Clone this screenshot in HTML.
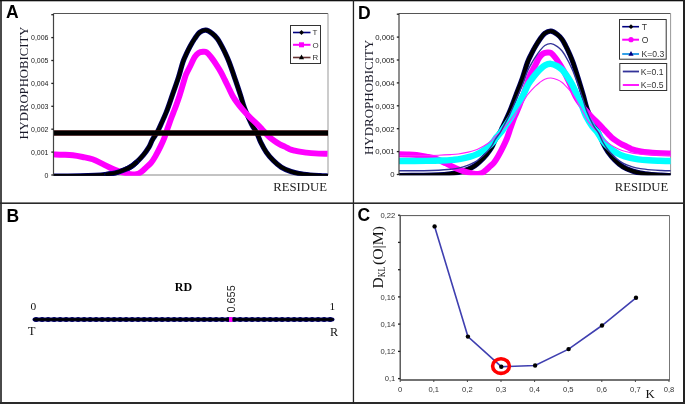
<!DOCTYPE html>
<html><head><meta charset="utf-8"><style>
html,body{margin:0;padding:0;background:#fff;}
body{width:685px;height:404px;overflow:hidden;font-family:"Liberation Sans",sans-serif;}
svg{display:block;will-change:transform;}
</style></head><body>
<svg width="685" height="404" viewBox="0 0 685 404">
<rect x="0" y="0" width="685" height="404" fill="#fff"/>
<rect x="0" y="0" width="2" height="404" fill="#4a4a4a"/>
<rect x="0" y="0" width="685" height="1.3" fill="#111"/>
<rect x="683" y="0" width="2" height="404" fill="#222"/>
<rect x="0" y="402" width="685" height="2" fill="#2a2a2a"/>
<rect x="352.8" y="0" width="1.3" height="404" fill="#222"/>
<rect x="0" y="202.4" width="685" height="1.6" fill="#2a2a2a"/>
<text x="6" y="18" font-family="Liberation Sans" font-weight="bold" font-size="17.5" fill="#000">A</text>
<text x="6.5" y="221.6" font-family="Liberation Sans" font-weight="bold" font-size="17.5" fill="#000">B</text>
<text x="357.5" y="221" font-family="Liberation Sans" font-weight="bold" font-size="17.5" fill="#000">C</text>
<text x="358" y="19.2" font-family="Liberation Sans" font-weight="bold" font-size="17.5" fill="#000">D</text>
<clipPath id="c53"><rect x="53.5" y="13.5" width="274.5" height="162.3"/></clipPath>
<line x1="53.5" y1="13.5" x2="328.0" y2="13.5" stroke="#555" stroke-width="1"/>
<line x1="328.0" y1="13.5" x2="328.0" y2="175.0" stroke="#999" stroke-width="1"/>
<line x1="53.5" y1="175.0" x2="328.0" y2="175.0" stroke="#888" stroke-width="1"/>
<g clip-path="url(#c53)">
<path d="M53.50,176.00 C57.92,175.98 73.08,176.00 80.00,175.90 C86.92,175.80 90.50,175.67 95.00,175.40 C99.50,175.13 103.67,174.70 107.00,174.30 C110.33,173.90 112.00,173.78 115.00,173.00 C118.00,172.22 122.23,170.73 125.00,169.60 C127.77,168.47 129.70,167.42 131.60,166.20 C133.50,164.98 134.42,164.20 136.40,162.30 C138.38,160.40 141.43,157.28 143.50,154.80 C145.57,152.32 147.33,149.87 148.80,147.40 C150.27,144.93 150.97,142.40 152.30,140.00 C153.63,137.60 155.60,135.08 156.80,133.00 C158.00,130.92 157.90,131.02 159.50,127.50 C161.10,123.98 164.23,117.38 166.40,111.90 C168.57,106.42 170.48,100.37 172.50,94.60 C174.52,88.83 176.77,82.72 178.50,77.30 C180.23,71.88 181.55,66.08 182.90,62.10 C184.25,58.12 185.37,56.08 186.60,53.40 C187.83,50.72 188.95,48.47 190.30,46.00 C191.65,43.53 193.15,40.87 194.70,38.60 C196.25,36.33 197.75,33.80 199.60,32.40 C201.45,31.00 203.67,30.00 205.80,30.20 C207.93,30.40 210.48,32.20 212.40,33.60 C214.32,35.00 215.87,36.73 217.30,38.60 C218.73,40.47 219.75,42.53 221.00,44.80 C222.25,47.07 223.43,49.28 224.80,52.20 C226.17,55.12 227.45,57.73 229.20,62.30 C230.95,66.87 233.42,74.12 235.30,79.60 C237.18,85.08 238.95,90.40 240.50,95.20 C242.05,100.00 242.77,103.60 244.60,108.40 C246.43,113.20 249.47,119.92 251.50,124.00 C253.53,128.08 255.23,129.78 256.80,132.90 C258.37,136.02 259.32,139.48 260.90,142.70 C262.48,145.92 264.25,149.25 266.30,152.20 C268.35,155.15 270.70,157.90 273.20,160.40 C275.70,162.90 278.35,165.35 281.30,167.20 C284.25,169.05 287.95,170.43 290.90,171.50 C293.85,172.57 295.82,173.02 299.00,173.60 C302.18,174.18 306.50,174.65 310.00,175.00 C313.50,175.35 317.08,175.53 320.00,175.70 C322.92,175.87 326.25,175.95 327.50,176.00" fill="none" stroke="#000070" stroke-width="5.2" stroke-linejoin="round" stroke-linecap="round"/><path d="M53.50,176.00 C57.92,175.98 73.08,176.00 80.00,175.90 C86.92,175.80 90.50,175.67 95.00,175.40 C99.50,175.13 103.67,174.70 107.00,174.30 C110.33,173.90 112.00,173.78 115.00,173.00 C118.00,172.22 122.23,170.73 125.00,169.60 C127.77,168.47 129.70,167.42 131.60,166.20 C133.50,164.98 134.42,164.20 136.40,162.30 C138.38,160.40 141.43,157.28 143.50,154.80 C145.57,152.32 147.33,149.87 148.80,147.40 C150.27,144.93 150.97,142.40 152.30,140.00 C153.63,137.60 155.60,135.08 156.80,133.00 C158.00,130.92 157.90,131.02 159.50,127.50 C161.10,123.98 164.23,117.38 166.40,111.90 C168.57,106.42 170.48,100.37 172.50,94.60 C174.52,88.83 176.77,82.72 178.50,77.30 C180.23,71.88 181.55,66.08 182.90,62.10 C184.25,58.12 185.37,56.08 186.60,53.40 C187.83,50.72 188.95,48.47 190.30,46.00 C191.65,43.53 193.15,40.87 194.70,38.60 C196.25,36.33 197.75,33.80 199.60,32.40 C201.45,31.00 203.67,30.00 205.80,30.20 C207.93,30.40 210.48,32.20 212.40,33.60 C214.32,35.00 215.87,36.73 217.30,38.60 C218.73,40.47 219.75,42.53 221.00,44.80 C222.25,47.07 223.43,49.28 224.80,52.20 C226.17,55.12 227.45,57.73 229.20,62.30 C230.95,66.87 233.42,74.12 235.30,79.60 C237.18,85.08 238.95,90.40 240.50,95.20 C242.05,100.00 242.77,103.60 244.60,108.40 C246.43,113.20 249.47,119.92 251.50,124.00 C253.53,128.08 255.23,129.78 256.80,132.90 C258.37,136.02 259.32,139.48 260.90,142.70 C262.48,145.92 264.25,149.25 266.30,152.20 C268.35,155.15 270.70,157.90 273.20,160.40 C275.70,162.90 278.35,165.35 281.30,167.20 C284.25,169.05 287.95,170.43 290.90,171.50 C293.85,172.57 295.82,173.02 299.00,173.60 C302.18,174.18 306.50,174.65 310.00,175.00 C313.50,175.35 317.08,175.53 320.00,175.70 C322.92,175.87 326.25,175.95 327.50,176.00" fill="none" stroke="#000" stroke-width="3.8" stroke-linejoin="round" stroke-linecap="round"/>
<path d="M53.50,154.40 C55.07,154.45 59.68,154.55 62.90,154.70 C66.12,154.85 69.50,154.92 72.80,155.30 C76.10,155.68 79.40,156.33 82.70,157.00 C86.00,157.67 89.30,158.17 92.60,159.30 C95.90,160.43 99.20,162.23 102.50,163.80 C105.80,165.37 109.48,167.40 112.40,168.70 C115.32,170.00 117.57,170.82 120.00,171.60 C122.43,172.38 124.92,172.93 127.00,173.40 C129.08,173.87 130.92,174.27 132.50,174.40 C134.08,174.53 135.25,174.47 136.50,174.20 C137.75,173.93 138.92,173.43 140.00,172.80 C141.08,172.17 141.92,171.33 143.00,170.40 C144.08,169.47 145.20,168.40 146.50,167.20 C147.80,166.00 149.35,164.97 150.80,163.20 C152.25,161.43 153.52,159.53 155.20,156.60 C156.88,153.67 159.37,148.75 160.90,145.60 C162.43,142.45 163.25,140.67 164.40,137.70 C165.55,134.73 166.65,131.10 167.80,127.80 C168.95,124.50 170.37,120.43 171.30,117.90 C172.23,115.37 172.55,114.80 173.40,112.60 C174.25,110.40 175.33,107.67 176.40,104.70 C177.47,101.73 178.73,98.10 179.80,94.80 C180.87,91.50 181.80,88.20 182.80,84.90 C183.80,81.60 184.85,77.57 185.80,75.00 C186.75,72.43 187.65,71.22 188.50,69.50 C189.35,67.78 189.85,66.82 190.90,64.70 C191.95,62.58 193.53,58.77 194.80,56.80 C196.07,54.83 197.13,53.73 198.50,52.90 C199.87,52.07 201.67,51.90 203.00,51.80 C204.33,51.70 205.18,51.47 206.50,52.30 C207.82,53.13 209.35,54.88 210.90,56.80 C212.45,58.72 214.17,61.32 215.80,63.80 C217.43,66.28 219.22,69.07 220.70,71.70 C222.18,74.33 223.43,77.05 224.70,79.60 C225.97,82.15 226.97,84.27 228.30,87.00 C229.63,89.73 231.25,93.42 232.70,96.00 C234.15,98.58 235.30,100.18 237.00,102.50 C238.70,104.82 240.75,107.43 242.90,109.90 C245.05,112.37 247.58,114.98 249.90,117.30 C252.22,119.62 254.75,121.77 256.80,123.80 C258.85,125.83 260.67,127.87 262.20,129.50 C263.73,131.13 264.72,132.25 266.00,133.60 C267.28,134.95 268.42,136.32 269.90,137.60 C271.38,138.88 273.25,140.18 274.90,141.30 C276.55,142.42 278.15,143.40 279.80,144.30 C281.45,145.20 283.15,145.88 284.80,146.70 C286.45,147.52 288.05,148.53 289.70,149.20 C291.35,149.87 293.05,150.28 294.70,150.70 C296.35,151.12 297.72,151.38 299.60,151.70 C301.48,152.02 303.43,152.32 306.00,152.60 C308.57,152.88 311.42,153.20 315.00,153.40 C318.58,153.60 325.42,153.73 327.50,153.80" fill="none" stroke="#ff00ff" stroke-width="5.9" stroke-linejoin="round"/>
<path d="M53.5,133.0 L328.0,133.0" fill="none" stroke="#4a1010" stroke-width="5.4" stroke-linejoin="round" stroke-linecap="round"/><path d="M53.5,133.0 L328.0,133.0" fill="none" stroke="#000" stroke-width="4.4" stroke-linejoin="round" stroke-linecap="round"/>
<path d="M107.00,174.30 C108.33,174.08 112.00,173.78 115.00,173.00 C118.00,172.22 122.23,170.73 125.00,169.60 C127.77,168.47 129.70,167.42 131.60,166.20 C133.50,164.98 135.60,162.95 136.40,162.30" fill="none" stroke="#000070" stroke-width="5.2" stroke-linejoin="round" stroke-linecap="round"/><path d="M107.00,174.30 C108.33,174.08 112.00,173.78 115.00,173.00 C118.00,172.22 122.23,170.73 125.00,169.60 C127.77,168.47 129.70,167.42 131.60,166.20 C133.50,164.98 135.60,162.95 136.40,162.30" fill="none" stroke="#000" stroke-width="3.8" stroke-linejoin="round" stroke-linecap="round"/>
</g>
<line x1="53.5" y1="13.5" x2="53.5" y2="175.5" stroke="#444" stroke-width="1.2"/>
<line x1="51.3" y1="175.0" x2="53.5" y2="175.0" stroke="#222" stroke-width="1.3"/>
<line x1="51.3" y1="152.1" x2="53.5" y2="152.1" stroke="#222" stroke-width="1.3"/>
<line x1="51.3" y1="129.2" x2="53.5" y2="129.2" stroke="#222" stroke-width="1.3"/>
<line x1="51.3" y1="106.3" x2="53.5" y2="106.3" stroke="#222" stroke-width="1.3"/>
<line x1="51.3" y1="83.4" x2="53.5" y2="83.4" stroke="#222" stroke-width="1.3"/>
<line x1="51.3" y1="60.5" x2="53.5" y2="60.5" stroke="#222" stroke-width="1.3"/>
<line x1="51.3" y1="37.6" x2="53.5" y2="37.6" stroke="#222" stroke-width="1.3"/>
<line x1="51.3" y1="14.7" x2="53.5" y2="14.7" stroke="#222" stroke-width="1.3"/>
<text x="48.5" y="177.8" text-anchor="end" font-family="Liberation Sans" font-size="7.7" fill="#1a1a1a" textLength="3.89" lengthAdjust="spacingAndGlyphs">0</text>
<text x="48.5" y="154.9" text-anchor="end" font-family="Liberation Sans" font-size="7.7" fill="#1a1a1a" textLength="17.50" lengthAdjust="spacingAndGlyphs">0,001</text>
<text x="48.5" y="132.0" text-anchor="end" font-family="Liberation Sans" font-size="7.7" fill="#1a1a1a" textLength="17.50" lengthAdjust="spacingAndGlyphs">0,002</text>
<text x="48.5" y="109.1" text-anchor="end" font-family="Liberation Sans" font-size="7.7" fill="#1a1a1a" textLength="17.50" lengthAdjust="spacingAndGlyphs">0,003</text>
<text x="48.5" y="86.2" text-anchor="end" font-family="Liberation Sans" font-size="7.7" fill="#1a1a1a" textLength="17.50" lengthAdjust="spacingAndGlyphs">0,004</text>
<text x="48.5" y="63.3" text-anchor="end" font-family="Liberation Sans" font-size="7.7" fill="#1a1a1a" textLength="17.50" lengthAdjust="spacingAndGlyphs">0,005</text>
<text x="48.5" y="40.4" text-anchor="end" font-family="Liberation Sans" font-size="7.7" fill="#1a1a1a" textLength="17.50" lengthAdjust="spacingAndGlyphs">0,006</text>
<text transform="translate(27.7,139.6) rotate(-90)" font-family="Liberation Serif" font-size="12.5" fill="#1a1a2a" textLength="113.0" lengthAdjust="spacingAndGlyphs">HYDROPHOBICITY</text>
<text x="273.3" y="191.3" font-family="Liberation Serif" font-size="12.5" fill="#222" textLength="53.7" lengthAdjust="spacingAndGlyphs">RESIDUE</text>
<rect x="290.5" y="25.5" width="30.0" height="38.0" fill="#fff" stroke="#333" stroke-width="1"/>
<line x1="293.0" y1="32.5" x2="310.5" y2="32.5" stroke="#000080" stroke-width="1.6"/>
<path d="M301.5,30.1 L303.9,32.5 L301.5,34.9 L299.1,32.5 Z" fill="#000"/>
<text x="312.4" y="35.2" font-family="Liberation Sans" font-size="7.9" fill="#333">T</text>
<line x1="293.0" y1="44.8" x2="310.5" y2="44.8" stroke="#ff00ff" stroke-width="2.0"/>
<rect x="299" y="42.3" width="5" height="5" fill="#ff00ff"/>
<text x="312.4" y="47.9" font-family="Liberation Sans" font-size="7.9" fill="#333">O</text>
<line x1="293.0" y1="57.5" x2="310.5" y2="57.5" stroke="#663333" stroke-width="1.6"/>
<path d="M301.5,54.6 L304.1,59.3 L298.9,59.3 Z" fill="#000"/>
<text x="312.4" y="60.2" font-family="Liberation Sans" font-size="7.9" fill="#333">R</text>
<clipPath id="c399"><rect x="399.0" y="13.5" width="271.6" height="161.8"/></clipPath>
<line x1="399.0" y1="13.5" x2="670.6" y2="13.5" stroke="#555" stroke-width="1"/>
<line x1="670.6" y1="13.5" x2="670.6" y2="174.5" stroke="#999" stroke-width="1"/>
<line x1="399.0" y1="174.5" x2="670.6" y2="174.5" stroke="#888" stroke-width="1"/>
<g clip-path="url(#c399)">
<path d="M390.00,175.49 C391.25,175.49 391.88,175.51 397.50,175.49 C403.12,175.47 416.88,175.49 423.72,175.39 C430.56,175.29 434.11,175.16 438.56,174.90 C443.01,174.63 447.14,174.20 450.43,173.81 C453.73,173.41 455.38,173.30 458.35,172.52 C461.32,171.74 465.51,170.28 468.24,169.15 C470.98,168.03 472.89,166.99 474.77,165.79 C476.65,164.58 477.56,163.81 479.52,161.93 C481.49,160.05 484.50,156.96 486.55,154.50 C488.59,152.04 490.34,149.62 491.79,147.18 C493.24,144.73 493.94,142.23 495.26,139.85 C496.58,137.47 498.52,134.98 499.71,132.92 C500.90,130.86 500.75,130.96 502.38,127.47 C504.01,123.99 507.21,117.46 509.49,112.03 C511.77,106.60 513.88,100.61 516.06,94.90 C518.23,89.19 520.64,83.14 522.53,77.78 C524.41,72.41 525.89,66.67 527.35,62.73 C528.81,58.79 529.98,56.77 531.28,54.12 C532.58,51.46 533.76,49.23 535.17,46.79 C536.58,44.35 538.15,41.71 539.75,39.46 C541.35,37.22 542.92,34.71 544.79,33.33 C546.66,31.94 548.85,30.95 550.95,31.15 C553.06,31.35 555.56,33.13 557.42,34.51 C559.28,35.90 560.75,37.62 562.11,39.46 C563.47,41.31 564.41,43.36 565.58,45.60 C566.75,47.85 567.85,50.04 569.11,52.93 C570.37,55.82 571.56,58.41 573.15,62.93 C574.74,67.45 576.96,74.63 578.66,80.05 C580.35,85.48 581.93,90.75 583.32,95.50 C584.70,100.25 585.29,103.81 586.97,108.57 C588.65,113.32 591.46,119.97 593.41,124.01 C595.36,128.05 597.10,129.74 598.65,132.82 C600.20,135.91 601.14,139.34 602.71,142.52 C604.28,145.71 606.02,149.01 608.05,151.93 C610.08,154.85 612.41,157.57 614.88,160.05 C617.35,162.52 619.97,164.95 622.89,166.78 C625.81,168.61 629.47,169.98 632.39,171.03 C635.31,172.09 637.26,172.54 640.41,173.11 C643.56,173.69 647.83,174.15 651.29,174.50 C654.75,174.85 658.30,175.03 661.18,175.19 C664.07,175.36 665.47,175.44 668.61,175.49 C671.74,175.54 678.10,175.49 680.00,175.49" fill="none" stroke="#000070" stroke-width="5.2" stroke-linejoin="round" stroke-linecap="round"/><path d="M390.00,175.49 C391.25,175.49 391.88,175.51 397.50,175.49 C403.12,175.47 416.88,175.49 423.72,175.39 C430.56,175.29 434.11,175.16 438.56,174.90 C443.01,174.63 447.14,174.20 450.43,173.81 C453.73,173.41 455.38,173.30 458.35,172.52 C461.32,171.74 465.51,170.28 468.24,169.15 C470.98,168.03 472.89,166.99 474.77,165.79 C476.65,164.58 477.56,163.81 479.52,161.93 C481.49,160.05 484.50,156.96 486.55,154.50 C488.59,152.04 490.34,149.62 491.79,147.18 C493.24,144.73 493.94,142.23 495.26,139.85 C496.58,137.47 498.52,134.98 499.71,132.92 C500.90,130.86 500.75,130.96 502.38,127.47 C504.01,123.99 507.21,117.46 509.49,112.03 C511.77,106.60 513.88,100.61 516.06,94.90 C518.23,89.19 520.64,83.14 522.53,77.78 C524.41,72.41 525.89,66.67 527.35,62.73 C528.81,58.79 529.98,56.77 531.28,54.12 C532.58,51.46 533.76,49.23 535.17,46.79 C536.58,44.35 538.15,41.71 539.75,39.46 C541.35,37.22 542.92,34.71 544.79,33.33 C546.66,31.94 548.85,30.95 550.95,31.15 C553.06,31.35 555.56,33.13 557.42,34.51 C559.28,35.90 560.75,37.62 562.11,39.46 C563.47,41.31 564.41,43.36 565.58,45.60 C566.75,47.85 567.85,50.04 569.11,52.93 C570.37,55.82 571.56,58.41 573.15,62.93 C574.74,67.45 576.96,74.63 578.66,80.05 C580.35,85.48 581.93,90.75 583.32,95.50 C584.70,100.25 585.29,103.81 586.97,108.57 C588.65,113.32 591.46,119.97 593.41,124.01 C595.36,128.05 597.10,129.74 598.65,132.82 C600.20,135.91 601.14,139.34 602.71,142.52 C604.28,145.71 606.02,149.01 608.05,151.93 C610.08,154.85 612.41,157.57 614.88,160.05 C617.35,162.52 619.97,164.95 622.89,166.78 C625.81,168.61 629.47,169.98 632.39,171.03 C635.31,172.09 637.26,172.54 640.41,173.11 C643.56,173.69 647.83,174.15 651.29,174.50 C654.75,174.85 658.30,175.03 661.18,175.19 C664.07,175.36 665.47,175.44 668.61,175.49 C671.74,175.54 678.10,175.49 680.00,175.49" fill="none" stroke="#000" stroke-width="3.8" stroke-linejoin="round" stroke-linecap="round"/>
<path d="M390.00,154.11 C391.25,154.11 394.70,154.06 397.50,154.11 C400.30,154.16 403.62,154.25 406.80,154.40 C409.98,154.55 413.33,154.62 416.60,155.00 C419.86,155.38 423.13,156.02 426.39,156.68 C429.66,157.34 432.92,157.84 436.19,158.96 C439.45,160.08 442.72,161.86 445.98,163.41 C449.25,164.96 452.89,166.98 455.78,168.26 C458.66,169.55 460.89,170.36 463.30,171.13 C465.71,171.91 468.16,172.45 470.22,172.92 C472.28,173.38 474.10,173.77 475.67,173.91 C477.23,174.04 478.39,173.97 479.62,173.71 C480.86,173.44 482.01,172.95 483.09,172.32 C484.16,171.69 484.98,170.87 486.05,169.95 C487.13,169.02 488.23,167.97 489.52,166.78 C490.80,165.59 492.34,164.57 493.77,162.82 C495.21,161.07 496.46,159.19 498.13,156.28 C499.79,153.38 502.25,148.51 503.77,145.39 C505.28,142.28 506.09,140.51 507.23,137.57 C508.37,134.64 509.44,131.04 510.59,127.77 C511.75,124.50 513.18,120.48 514.15,117.97 C515.12,115.46 515.48,114.90 516.39,112.72 C517.30,110.55 518.46,107.84 519.60,104.90 C520.75,101.97 522.12,98.37 523.27,95.10 C524.43,91.84 525.46,88.57 526.55,85.30 C527.64,82.03 528.80,78.04 529.82,75.50 C530.84,72.96 531.77,71.75 532.66,70.06 C533.56,68.36 534.08,67.40 535.18,65.30 C536.29,63.21 537.97,59.43 539.29,57.48 C540.60,55.54 541.69,54.45 543.07,53.62 C544.45,52.80 546.23,52.63 547.55,52.53 C548.88,52.43 549.73,52.20 551.00,53.03 C552.28,53.85 553.74,55.58 555.22,57.48 C556.69,59.38 558.31,61.95 559.85,64.41 C561.39,66.87 563.07,69.63 564.45,72.23 C565.84,74.84 566.99,77.53 568.17,80.05 C569.34,82.58 570.27,84.67 571.50,87.38 C572.74,90.09 574.22,93.73 575.58,96.29 C576.93,98.85 578.02,100.43 579.63,102.72 C581.24,105.02 583.19,107.61 585.24,110.05 C587.29,112.49 589.70,115.08 591.94,117.38 C594.17,119.67 596.64,121.80 598.65,123.81 C600.66,125.82 602.48,127.84 604.00,129.45 C605.51,131.07 606.49,132.18 607.76,133.51 C609.02,134.85 610.15,136.20 611.61,137.47 C613.08,138.74 614.93,140.03 616.56,141.14 C618.19,142.24 619.78,143.22 621.41,144.11 C623.04,145.00 624.72,145.67 626.36,146.48 C627.99,147.29 629.57,148.30 631.20,148.96 C632.84,149.62 634.52,150.03 636.15,150.44 C637.78,150.86 639.14,151.12 641.00,151.43 C642.86,151.75 644.79,152.04 647.33,152.32 C649.87,152.60 652.69,152.92 656.24,153.12 C659.78,153.31 664.64,153.45 668.61,153.51 C672.57,153.58 678.10,153.51 680.00,153.51" fill="none" stroke="#ff00ff" stroke-width="6" stroke-linejoin="round"/>
<path d="M390.00,160.97 C391.88,160.97 395.13,160.98 401.27,160.97 C407.41,160.96 420.16,160.97 426.83,160.90 C433.51,160.83 436.96,160.74 441.31,160.57 C445.65,160.39 449.67,160.10 452.88,159.83 C456.10,159.57 457.70,159.49 460.60,158.97 C463.49,158.45 467.58,157.46 470.25,156.70 C472.92,155.95 474.78,155.25 476.61,154.44 C478.45,153.63 479.33,153.10 481.24,151.84 C483.16,150.57 486.10,148.50 488.09,146.84 C490.09,145.19 491.79,143.55 493.21,141.91 C494.62,140.27 495.30,138.58 496.58,136.98 C497.87,135.38 499.77,133.70 500.92,132.32 C502.08,130.93 501.94,131.00 503.53,128.65 C505.12,126.31 508.23,121.91 510.46,118.26 C512.68,114.60 514.74,110.57 516.86,106.73 C518.98,102.89 521.34,98.81 523.17,95.21 C525.01,91.60 526.45,87.73 527.87,85.08 C529.30,82.42 530.43,81.07 531.70,79.28 C532.97,77.49 534.12,75.99 535.50,74.35 C536.87,72.71 538.40,70.93 539.96,69.42 C541.53,67.91 543.06,66.22 544.88,65.29 C546.70,64.36 548.83,63.69 550.88,63.82 C552.94,63.96 555.38,65.16 557.19,66.09 C559.00,67.02 560.44,68.18 561.77,69.42 C563.09,70.66 564.01,72.04 565.15,73.55 C566.29,75.06 567.36,76.54 568.59,78.48 C569.82,80.43 570.98,82.17 572.53,85.21 C574.08,88.25 576.24,93.08 577.90,96.74 C579.55,100.39 581.09,103.93 582.44,107.13 C583.79,110.33 584.36,112.73 586.00,115.93 C587.64,119.12 590.38,123.60 592.28,126.32 C594.18,129.04 595.88,130.17 597.39,132.25 C598.90,134.33 599.82,136.64 601.35,138.78 C602.88,140.92 604.58,143.14 606.56,145.11 C608.54,147.07 610.80,148.91 613.21,150.57 C615.63,152.24 618.18,153.87 621.03,155.10 C623.87,156.34 627.44,157.26 630.29,157.97 C633.14,158.68 635.03,158.98 638.10,159.37 C641.17,159.76 645.34,160.07 648.72,160.30 C652.09,160.53 655.55,160.66 658.36,160.77 C661.18,160.88 661.99,160.93 665.60,160.97 C669.20,161.00 677.60,160.97 680.00,160.97" fill="none" stroke="#00ffff" stroke-width="6.4" stroke-linejoin="round"/>
<path d="M390.00,155.53 C391.25,155.53 391.88,155.54 397.50,155.53 C403.12,155.52 416.88,155.53 423.72,155.48 C430.56,155.43 434.11,155.35 438.56,155.21 C443.01,155.07 447.14,154.84 450.43,154.63 C453.73,154.42 455.38,154.35 458.35,153.94 C461.32,153.52 465.51,152.73 468.24,152.13 C470.98,151.53 472.89,150.97 474.77,150.32 C476.65,149.67 477.56,149.26 479.52,148.25 C481.49,147.24 484.50,145.58 486.55,144.26 C488.59,142.94 490.34,141.64 491.79,140.33 C493.24,139.02 493.94,137.67 495.26,136.39 C496.58,135.12 498.52,133.78 499.71,132.67 C500.90,131.56 500.75,131.62 502.38,129.75 C504.01,127.88 507.21,124.37 509.49,121.45 C511.77,118.54 513.88,115.32 516.06,112.26 C518.23,109.19 520.64,105.94 522.53,103.06 C524.41,100.18 525.89,97.10 527.35,94.98 C528.81,92.86 529.98,91.78 531.28,90.35 C532.58,88.93 533.76,87.73 535.17,86.42 C536.58,85.11 538.15,83.69 539.75,82.49 C541.35,81.28 542.92,79.93 544.79,79.19 C546.66,78.45 548.85,77.91 550.95,78.02 C553.06,78.13 555.56,79.08 557.42,79.83 C559.28,80.57 560.75,81.49 562.11,82.49 C563.47,83.48 564.41,84.58 565.58,85.78 C566.75,86.99 567.85,88.17 569.11,89.72 C570.37,91.27 571.56,92.66 573.15,95.09 C574.74,97.51 576.96,101.37 578.66,104.28 C580.35,107.20 581.93,110.02 583.32,112.58 C584.70,115.13 585.29,117.04 586.97,119.59 C588.65,122.15 591.46,125.72 593.41,127.89 C595.36,130.06 597.10,130.96 598.65,132.62 C600.20,134.28 601.14,136.12 602.71,137.83 C604.28,139.54 606.02,141.31 608.05,142.88 C610.08,144.45 612.41,145.91 614.88,147.24 C617.35,148.57 619.97,149.87 622.89,150.85 C625.81,151.84 629.47,152.57 632.39,153.14 C635.31,153.71 637.26,153.95 640.41,154.26 C643.56,154.57 647.83,154.81 651.29,155.00 C654.75,155.19 658.30,155.28 661.18,155.37 C664.07,155.46 665.47,155.51 668.61,155.53 C671.74,155.56 678.10,155.53 680.00,155.53" fill="none" stroke="#ff22ff" stroke-width="1.1" stroke-linejoin="round"/>
<path d="M390.00,170.77 C391.25,170.77 391.88,170.79 397.50,170.77 C403.12,170.76 416.88,170.77 423.72,170.68 C430.56,170.60 434.11,170.48 438.56,170.25 C443.01,170.02 447.14,169.64 450.43,169.29 C453.73,168.94 455.38,168.84 458.35,168.16 C461.32,167.47 465.51,166.18 468.24,165.19 C470.98,164.20 472.89,163.29 474.77,162.22 C476.65,161.16 477.56,160.48 479.52,158.82 C481.49,157.17 484.50,154.45 486.55,152.28 C488.59,150.12 490.34,147.98 491.79,145.83 C493.24,143.68 493.94,141.47 495.26,139.37 C496.58,137.28 498.52,135.09 499.71,133.27 C500.90,131.45 500.75,131.54 502.38,128.47 C504.01,125.40 507.21,119.65 509.49,114.86 C511.77,110.08 513.88,104.81 516.06,99.78 C518.23,94.75 520.64,89.41 522.53,84.69 C524.41,79.96 525.89,74.90 527.35,71.43 C528.81,67.96 529.98,66.18 531.28,63.84 C532.58,61.50 533.76,59.54 535.17,57.39 C536.58,55.24 538.15,52.91 539.75,50.93 C541.35,48.96 542.92,46.75 544.79,45.53 C546.66,44.30 548.85,43.43 550.95,43.61 C553.06,43.78 555.56,45.35 557.42,46.57 C559.28,47.79 560.75,49.31 562.11,50.93 C563.47,52.56 564.41,54.36 565.58,56.34 C566.75,58.32 567.85,60.25 569.11,62.80 C570.37,65.34 571.56,67.62 573.15,71.60 C574.74,75.59 576.96,81.91 578.66,86.69 C580.35,91.48 581.93,96.11 583.32,100.30 C584.70,104.49 585.29,107.63 586.97,111.81 C588.65,116.00 591.46,121.86 593.41,125.42 C595.36,128.98 597.10,130.46 598.65,133.18 C600.20,135.90 601.14,138.92 602.71,141.73 C604.28,144.53 606.02,147.44 608.05,150.01 C610.08,152.59 612.41,154.99 614.88,157.17 C617.35,159.35 619.97,161.48 622.89,163.10 C625.81,164.71 629.47,165.92 632.39,166.85 C635.31,167.78 637.26,168.17 640.41,168.68 C643.56,169.19 647.83,169.59 651.29,169.90 C654.75,170.21 658.30,170.37 661.18,170.51 C664.07,170.66 665.47,170.73 668.61,170.77 C671.74,170.82 678.10,170.77 680.00,170.77" fill="none" stroke="#333399" stroke-width="1.4" stroke-linejoin="round"/>
</g>
<line x1="399.0" y1="13.5" x2="399.0" y2="175.0" stroke="#444" stroke-width="1.2"/>
<line x1="396.8" y1="174.5" x2="399.0" y2="174.5" stroke="#222" stroke-width="1.3"/>
<line x1="396.8" y1="151.6" x2="399.0" y2="151.6" stroke="#222" stroke-width="1.3"/>
<line x1="396.8" y1="128.7" x2="399.0" y2="128.7" stroke="#222" stroke-width="1.3"/>
<line x1="396.8" y1="105.8" x2="399.0" y2="105.8" stroke="#222" stroke-width="1.3"/>
<line x1="396.8" y1="82.9" x2="399.0" y2="82.9" stroke="#222" stroke-width="1.3"/>
<line x1="396.8" y1="60.0" x2="399.0" y2="60.0" stroke="#222" stroke-width="1.3"/>
<line x1="396.8" y1="37.1" x2="399.0" y2="37.1" stroke="#222" stroke-width="1.3"/>
<line x1="396.8" y1="14.2" x2="399.0" y2="14.2" stroke="#222" stroke-width="1.3"/>
<text x="394.6" y="177.3" text-anchor="end" font-family="Liberation Sans" font-size="8.1" fill="#1a1a1a" textLength="4.31" lengthAdjust="spacingAndGlyphs">0</text>
<text x="394.6" y="154.4" text-anchor="end" font-family="Liberation Sans" font-size="8.1" fill="#1a1a1a" textLength="19.40" lengthAdjust="spacingAndGlyphs">0,001</text>
<text x="394.6" y="131.5" text-anchor="end" font-family="Liberation Sans" font-size="8.1" fill="#1a1a1a" textLength="19.40" lengthAdjust="spacingAndGlyphs">0,002</text>
<text x="394.6" y="108.6" text-anchor="end" font-family="Liberation Sans" font-size="8.1" fill="#1a1a1a" textLength="19.40" lengthAdjust="spacingAndGlyphs">0,003</text>
<text x="394.6" y="85.7" text-anchor="end" font-family="Liberation Sans" font-size="8.1" fill="#1a1a1a" textLength="19.40" lengthAdjust="spacingAndGlyphs">0,004</text>
<text x="394.6" y="62.8" text-anchor="end" font-family="Liberation Sans" font-size="8.1" fill="#1a1a1a" textLength="19.40" lengthAdjust="spacingAndGlyphs">0,005</text>
<text x="394.6" y="39.9" text-anchor="end" font-family="Liberation Sans" font-size="8.1" fill="#1a1a1a" textLength="19.40" lengthAdjust="spacingAndGlyphs">0,006</text>
<text transform="translate(372.9,155.1) rotate(-90)" font-family="Liberation Serif" font-size="12.5" fill="#1a1a2a" textLength="115.4" lengthAdjust="spacingAndGlyphs">HYDROPHOBICITY</text>
<text x="614.7" y="191.3" font-family="Liberation Serif" font-size="12.5" fill="#222" textLength="53.5" lengthAdjust="spacingAndGlyphs">RESIDUE</text>
<rect x="619.5" y="19.5" width="46.7" height="39.7" fill="#fff" stroke="#333" stroke-width="1"/>
<line x1="622.2" y1="26.7" x2="639.0" y2="26.7" stroke="#000080" stroke-width="1.6"/>
<path d="M631.0,24.3 L633.4,26.7 L631.0,29.1 L628.6,26.7 Z" fill="#000"/>
<text x="641.8" y="29.9" font-family="Liberation Sans" font-size="8.6" fill="#333">T</text>
<line x1="622.2" y1="39.7" x2="639.0" y2="39.7" stroke="#ff00ff" stroke-width="2.0"/>
<circle cx="631" cy="39.7" r="2.6" fill="#ff00ff"/>
<text x="641.8" y="42.8" font-family="Liberation Sans" font-size="8.6" fill="#333">O</text>
<line x1="622.2" y1="54.0" x2="639.0" y2="54.0" stroke="#33a0e8" stroke-width="2.0"/>
<path d="M631.0,51.0 L633.6,55.7 L628.4,55.7 Z" fill="#000080"/>
<text x="641.6" y="57.1" font-family="Liberation Sans" font-size="8.6" fill="#333">K=0.3</text>
<rect x="619.8" y="63.5" width="46.9" height="27.0" fill="#fff" stroke="#333" stroke-width="1"/>
<line x1="622.8" y1="71.5" x2="639.0" y2="71.5" stroke="#333399" stroke-width="1.8"/>
<text x="640.8" y="74.6" font-family="Liberation Sans" font-size="8.6" fill="#333">K=0.1</text>
<line x1="622.8" y1="85.0" x2="639.0" y2="85.0" stroke="#ff00ff" stroke-width="1.8"/>
<text x="640.8" y="88.1" font-family="Liberation Sans" font-size="8.6" fill="#333">K=0.5</text>
<line x1="34.6" y1="319.5" x2="332.4" y2="319.5" stroke="#06066e" stroke-width="4.2" stroke-linecap="round"/>
<circle cx="36.10" cy="319.5" r="2.5" fill="#000062"/>
<circle cx="42.10" cy="319.5" r="2.5" fill="#000062"/>
<circle cx="48.10" cy="319.5" r="2.5" fill="#000062"/>
<circle cx="54.10" cy="319.5" r="2.5" fill="#000062"/>
<circle cx="60.10" cy="319.5" r="2.5" fill="#000062"/>
<circle cx="66.10" cy="319.5" r="2.5" fill="#000062"/>
<circle cx="72.10" cy="319.5" r="2.5" fill="#000062"/>
<circle cx="78.10" cy="319.5" r="2.5" fill="#000062"/>
<circle cx="84.10" cy="319.5" r="2.5" fill="#000062"/>
<circle cx="90.10" cy="319.5" r="2.5" fill="#000062"/>
<circle cx="96.10" cy="319.5" r="2.5" fill="#000062"/>
<circle cx="102.10" cy="319.5" r="2.5" fill="#000062"/>
<circle cx="108.10" cy="319.5" r="2.5" fill="#000062"/>
<circle cx="114.10" cy="319.5" r="2.5" fill="#000062"/>
<circle cx="120.10" cy="319.5" r="2.5" fill="#000062"/>
<circle cx="126.10" cy="319.5" r="2.5" fill="#000062"/>
<circle cx="132.10" cy="319.5" r="2.5" fill="#000062"/>
<circle cx="138.10" cy="319.5" r="2.5" fill="#000062"/>
<circle cx="144.10" cy="319.5" r="2.5" fill="#000062"/>
<circle cx="150.10" cy="319.5" r="2.5" fill="#000062"/>
<circle cx="156.10" cy="319.5" r="2.5" fill="#000062"/>
<circle cx="162.10" cy="319.5" r="2.5" fill="#000062"/>
<circle cx="168.10" cy="319.5" r="2.5" fill="#000062"/>
<circle cx="174.10" cy="319.5" r="2.5" fill="#000062"/>
<circle cx="180.10" cy="319.5" r="2.5" fill="#000062"/>
<circle cx="186.10" cy="319.5" r="2.5" fill="#000062"/>
<circle cx="192.10" cy="319.5" r="2.5" fill="#000062"/>
<circle cx="198.10" cy="319.5" r="2.5" fill="#000062"/>
<circle cx="204.10" cy="319.5" r="2.5" fill="#000062"/>
<circle cx="210.10" cy="319.5" r="2.5" fill="#000062"/>
<circle cx="216.10" cy="319.5" r="2.5" fill="#000062"/>
<circle cx="222.10" cy="319.5" r="2.5" fill="#000062"/>
<circle cx="228.10" cy="319.5" r="2.5" fill="#000062"/>
<circle cx="234.10" cy="319.5" r="2.5" fill="#000062"/>
<circle cx="240.10" cy="319.5" r="2.5" fill="#000062"/>
<circle cx="246.10" cy="319.5" r="2.5" fill="#000062"/>
<circle cx="252.10" cy="319.5" r="2.5" fill="#000062"/>
<circle cx="258.10" cy="319.5" r="2.5" fill="#000062"/>
<circle cx="264.10" cy="319.5" r="2.5" fill="#000062"/>
<circle cx="270.10" cy="319.5" r="2.5" fill="#000062"/>
<circle cx="276.10" cy="319.5" r="2.5" fill="#000062"/>
<circle cx="282.10" cy="319.5" r="2.5" fill="#000062"/>
<circle cx="288.10" cy="319.5" r="2.5" fill="#000062"/>
<circle cx="294.10" cy="319.5" r="2.5" fill="#000062"/>
<circle cx="300.10" cy="319.5" r="2.5" fill="#000062"/>
<circle cx="306.10" cy="319.5" r="2.5" fill="#000062"/>
<circle cx="312.10" cy="319.5" r="2.5" fill="#000062"/>
<circle cx="318.10" cy="319.5" r="2.5" fill="#000062"/>
<circle cx="324.10" cy="319.5" r="2.5" fill="#000062"/>
<circle cx="330.10" cy="319.5" r="2.5" fill="#000062"/>
<line x1="34.6" y1="319.5" x2="332.4" y2="319.5" stroke="#000" stroke-width="2.7" stroke-linecap="round"/>
<rect x="229" y="317" width="3.4" height="5" fill="#ff00ff"/>
<text x="30.5" y="309.8" text-anchor="start" font-family="Liberation Serif" font-weight="normal" font-size="11.4" fill="#111">0</text>
<text x="329.6" y="309.8" text-anchor="start" font-family="Liberation Serif" font-weight="normal" font-size="11.4" fill="#111">1</text>
<text x="28.0" y="335.3" text-anchor="start" font-family="Liberation Serif" font-weight="normal" font-size="12.2" fill="#111">T</text>
<text x="330.0" y="335.8" text-anchor="start" font-family="Liberation Serif" font-weight="normal" font-size="12.2" fill="#111">R</text>
<text x="174.8" y="291.2" text-anchor="start" font-family="Liberation Serif" font-weight="bold" font-size="12.0" fill="#000">RD</text>
<text transform="translate(235.3,312.5) rotate(-90)" font-family="Liberation Sans" font-size="10.8" fill="#222" textLength="27.2" lengthAdjust="spacingAndGlyphs">0.655</text>
<line x1="400.2" y1="215.6" x2="669.5" y2="215.6" stroke="#555" stroke-width="1"/>
<line x1="669.5" y1="215.6" x2="669.5" y2="380.0" stroke="#777" stroke-width="1"/>
<line x1="400.2" y1="380.0" x2="669.5" y2="380.0" stroke="#444" stroke-width="1.3"/>
<line x1="400.2" y1="215.6" x2="400.2" y2="380.0" stroke="#444" stroke-width="1.3"/>
<line x1="398.0" y1="378.6" x2="400.2" y2="378.6" stroke="#222" stroke-width="1.3"/>
<text x="395.3" y="381.4" text-anchor="end" font-family="Liberation Sans" font-size="7.6" fill="#333">0,1</text>
<line x1="398.0" y1="351.4" x2="400.2" y2="351.4" stroke="#222" stroke-width="1.3"/>
<text x="395.3" y="354.2" text-anchor="end" font-family="Liberation Sans" font-size="7.6" fill="#333">0,12</text>
<line x1="398.0" y1="324.1" x2="400.2" y2="324.1" stroke="#222" stroke-width="1.3"/>
<text x="395.3" y="326.9" text-anchor="end" font-family="Liberation Sans" font-size="7.6" fill="#333">0,14</text>
<line x1="398.0" y1="296.9" x2="400.2" y2="296.9" stroke="#222" stroke-width="1.3"/>
<text x="395.3" y="299.7" text-anchor="end" font-family="Liberation Sans" font-size="7.6" fill="#333">0,16</text>
<line x1="398.0" y1="269.7" x2="400.2" y2="269.7" stroke="#222" stroke-width="1.3"/>
<line x1="398.0" y1="242.4" x2="400.2" y2="242.4" stroke="#222" stroke-width="1.3"/>
<line x1="398.0" y1="215.2" x2="400.2" y2="215.2" stroke="#222" stroke-width="1.3"/>
<text x="395.3" y="218.0" text-anchor="end" font-family="Liberation Sans" font-size="7.6" fill="#333">0,22</text>
<line x1="400.2" y1="380.0" x2="400.2" y2="382.0" stroke="#444" stroke-width="1"/>
<text x="400.2" y="392.0" text-anchor="middle" font-family="Liberation Sans" font-size="7.6" fill="#333">0</text>
<line x1="433.8" y1="380.0" x2="433.8" y2="382.0" stroke="#444" stroke-width="1"/>
<text x="433.8" y="392.0" text-anchor="middle" font-family="Liberation Sans" font-size="7.6" fill="#333">0,1</text>
<line x1="467.4" y1="380.0" x2="467.4" y2="382.0" stroke="#444" stroke-width="1"/>
<text x="467.4" y="392.0" text-anchor="middle" font-family="Liberation Sans" font-size="7.6" fill="#333">0,2</text>
<line x1="501.0" y1="380.0" x2="501.0" y2="382.0" stroke="#444" stroke-width="1"/>
<text x="501.0" y="392.0" text-anchor="middle" font-family="Liberation Sans" font-size="7.6" fill="#333">0,3</text>
<line x1="534.6" y1="380.0" x2="534.6" y2="382.0" stroke="#444" stroke-width="1"/>
<text x="534.6" y="392.0" text-anchor="middle" font-family="Liberation Sans" font-size="7.6" fill="#333">0,4</text>
<line x1="568.2" y1="380.0" x2="568.2" y2="382.0" stroke="#444" stroke-width="1"/>
<text x="568.2" y="392.0" text-anchor="middle" font-family="Liberation Sans" font-size="7.6" fill="#333">0,5</text>
<line x1="601.8" y1="380.0" x2="601.8" y2="382.0" stroke="#444" stroke-width="1"/>
<text x="601.8" y="392.0" text-anchor="middle" font-family="Liberation Sans" font-size="7.6" fill="#333">0,6</text>
<line x1="635.4" y1="380.0" x2="635.4" y2="382.0" stroke="#444" stroke-width="1"/>
<text x="635.4" y="392.0" text-anchor="middle" font-family="Liberation Sans" font-size="7.6" fill="#333">0,7</text>
<line x1="669.0" y1="380.0" x2="669.0" y2="382.0" stroke="#444" stroke-width="1"/>
<text x="669.0" y="392.0" text-anchor="middle" font-family="Liberation Sans" font-size="7.6" fill="#333">0,8</text>
<text x="645.4" y="398.2" text-anchor="start" font-family="Liberation Serif" font-weight="normal" font-size="12.9" fill="#111">K</text>
<polyline points="434.6,226.4 467.9,336.6 501.3,366.7 535.1,365.5 568.6,349.1 602.0,325.5 636.0,297.8" fill="none" stroke="#3f3fb0" stroke-width="1.6"/>
<circle cx="434.6" cy="226.4" r="2.2" fill="#000"/>
<circle cx="467.9" cy="336.6" r="2.2" fill="#000"/>
<circle cx="501.3" cy="366.7" r="2.2" fill="#000"/>
<circle cx="535.1" cy="365.5" r="2.2" fill="#000"/>
<circle cx="568.6" cy="349.1" r="2.2" fill="#000"/>
<circle cx="602.0" cy="325.5" r="2.2" fill="#000"/>
<circle cx="636.0" cy="297.8" r="2.2" fill="#000"/>
<ellipse cx="501" cy="366.1" rx="8.4" ry="7.3" fill="none" stroke="#ff0000" stroke-width="3.6"/>
<text transform="translate(383.4,288.4) rotate(-90)" font-family="Liberation Serif" fill="#111"><tspan font-size="15.5">D</tspan><tspan font-size="10.5" dy="1.8" textLength="10.5" lengthAdjust="spacingAndGlyphs">KL</tspan><tspan font-size="15.5" dx="1.8" dy="-1.8" textLength="38.8" lengthAdjust="spacingAndGlyphs">(O|M)</tspan></text>
</svg>
</body></html>
